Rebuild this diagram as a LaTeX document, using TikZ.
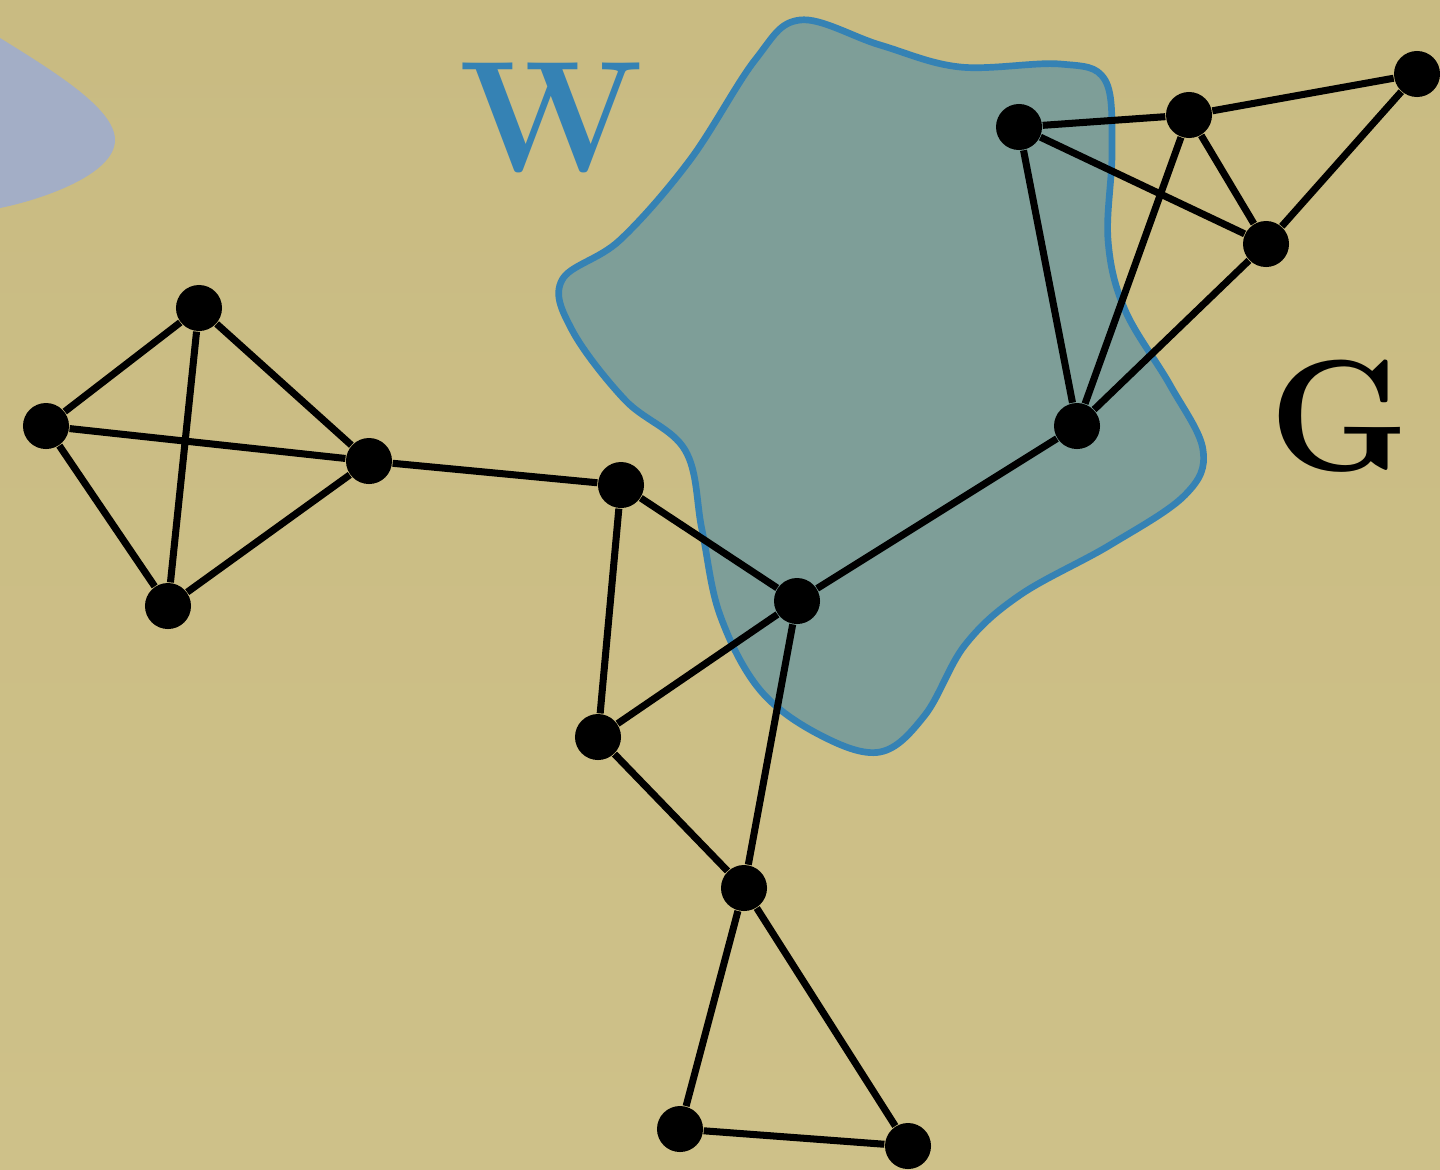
\documentclass[tikz,border=0pt]{standalone}
\usepackage{tikz}
\usepackage{xcolor}
\definecolor{sandtop}{HTML}{C9BB82}
\definecolor{sandbot}{HTML}{CEC189}
\definecolor{setblue}{HTML}{3582B4}
\definecolor{setfill}{HTML}{7E9E98}
\definecolor{lavender}{HTML}{A3AEC6}

\begin{document}
\begin{tikzpicture}[
    x=0.01cm, y=-0.01cm,
    vertex/.style={circle, fill=black, inner sep=0pt, minimum size=0.46cm},
    edge/.style={line width=2pt, black},
    biglabel/.style={font=\fontsize{45}{52}\selectfont\bfseries},
]
    % background
    \shade[top color=sandtop, bottom color=sandbot] (0,0) rectangle (1440,1169);
    \useasboundingbox (0,0) rectangle (1440,1169);
    \fill[lavender] (0,38) .. controls (60,75) and (115,110) .. (115,140)
        .. controls (115,175) and (40,200) .. (0,208) -- cycle;

    % the set W
    \draw[setblue, fill=setfill, line width=1.9pt] plot[smooth cycle, tension=0.6] coordinates {
        (800,20) (880,45) (960,67) (1060,64) (1105,80) (1112,150) (1108,240)
        (1125,310) (1170,385) (1203,450) (1185,495) (1110,545) (1020,595)
        (965,645) (925,715) (880,752) (820,735) (760,690) (720,615) (702,530)
        (685,450) (625,400) (572,330) (562,280) (620,240) (690,160) (755,60)};

    \node[biglabel, text=setblue] (w) at (551,118) {W};
    \node[biglabel] (g) at (1339,416) {G};

    % left cluster
    \node[vertex] (l1) at (199,308) {};
    \node[vertex] (l2) at (46,426) {};
    \node[vertex] (l3) at (369,461) {};
    \node[vertex] (l4) at (168,606) {};
    % middle part
    \node[vertex] (m1) at (621,485) {};
    \node[vertex] (m2) at (797,601) {};
    \node[vertex] (m3) at (598,737) {};
    \node[vertex] (m4) at (744,888) {};
    \node[vertex] (m5) at (680,1129) {};
    \node[vertex] (m6) at (908,1146) {};
    % right cluster
    \node[vertex] (r1) at (1077,426) {};
    \node[vertex] (r2) at (1019,127) {};
    \node[vertex] (r3) at (1189,115) {};
    \node[vertex] (r4) at (1266,244) {};
    \node[vertex] (r5) at (1417,74) {};

    \draw[edge] (l1) -- (l2) (l1) -- (l3) (l1) -- (l4)
        (l2) -- (l3) (l2) -- (l4) (l4) -- (l3);
    \draw[edge] (l3) -- (m1);
    \draw[edge] (m1) -- (m2) (m1) -- (m3) (m2) -- (m3) (m2) -- (m4)
        (m3) -- (m4) (m4) -- (m5) (m4) -- (m6) (m5) -- (m6);
    \draw[edge] (m2) -- (r1);
    \draw[edge] (r1) -- (r2) (r1) -- (r3) (r1) -- (r4) (r2) -- (r3)
        (r2) -- (r4) (r3) -- (r4) (r3) -- (r5) (r4) -- (r5);
\end{tikzpicture}
\end{document}
